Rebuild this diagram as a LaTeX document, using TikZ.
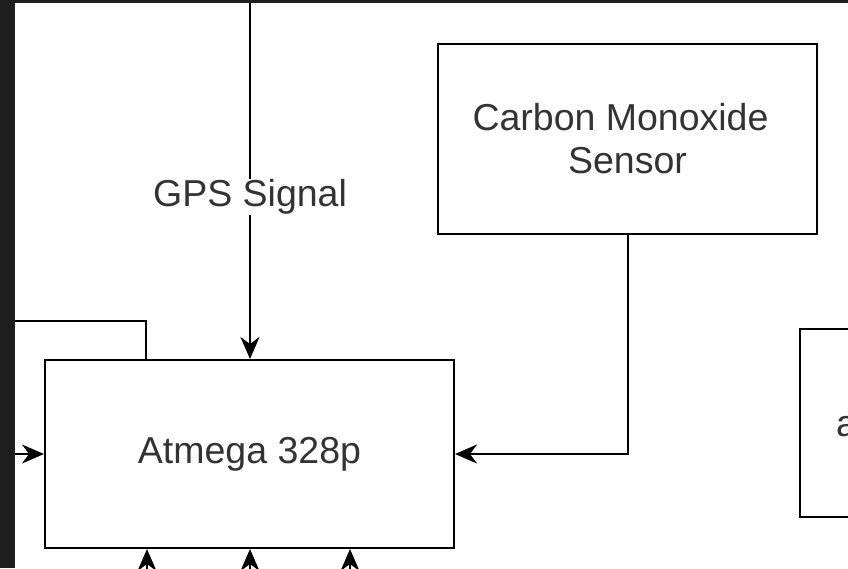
\documentclass[tikz,border=0pt]{standalone}
\usepackage{fontspec}
\setmainfont{Liberation Sans}
\usetikzlibrary{arrows.meta}
\definecolor{frame}{HTML}{1E1E1E}
\definecolor{txt}{HTML}{333333}
\tikzset{
  blk/.style={draw=black, line width=2pt, fill=white, inner sep=0pt, text=txt,
    font=\fontsize{37.5}{43}\selectfont, align=center},
  wire/.style={draw=black, line width=2pt},
  arr/.style={wire, -{Stealth[length=22pt,width=19pt,inset=7pt]}},
  lbl/.style={fill=white, text=txt, inner sep=1pt, font=\fontsize{37.5}{43}\selectfont}
}
\begin{document}
\begin{tikzpicture}[x=1pt,y=-1pt]
\useasboundingbox (0,0) rectangle (848,568);
\fill[frame] (0,0) rectangle (848,568);
\fill[white] (15,3) rectangle (848,568);
\begin{scope}
\clip (15,3) rectangle (848,568);
% nodes
\node[blk, minimum width=409pt, minimum height=188pt] (mcu) at (249.5,454) {Atmega 328p};
\node[blk, minimum width=379pt, minimum height=190pt] (co) at (627.5,139) {\hspace*{-14pt}Carbon Monoxide\\Sensor};
\node[blk, minimum width=300pt, minimum height=188pt] (rb) at (950,423) {};
\node[text=txt, font=\fontsize{37.5}{43}\selectfont, anchor=base west, inner sep=0pt] (rbt) at (836,436) {a};
% free ends
\coordinate (gpsTop) at (250,0);
\coordinate (leftIn) at (10,454);
\coordinate (leftTop) at (10,321);
\coordinate (b1) at (147,600);
\coordinate (b2) at (250,600);
\coordinate (b3) at (350,600);
% connectors
\draw[arr] (gpsTop) -- (gpsTop |- mcu.north);
\node[lbl] (gpsl) at (250,197) {GPS Signal};
\draw[arr] (co.south) |- (mcu.east);
\draw[arr] (leftIn) -- (mcu.west);
\draw[wire] (leftTop) -| (146,360) coordinate (ltEnd);
\draw[arr] (b1) -- (b1 |- mcu.south);
\draw[arr] (b2) -- (b2 |- mcu.south);
\draw[arr] (b3) -- (b3 |- mcu.south);
\end{scope}
\end{tikzpicture}
\end{document}
